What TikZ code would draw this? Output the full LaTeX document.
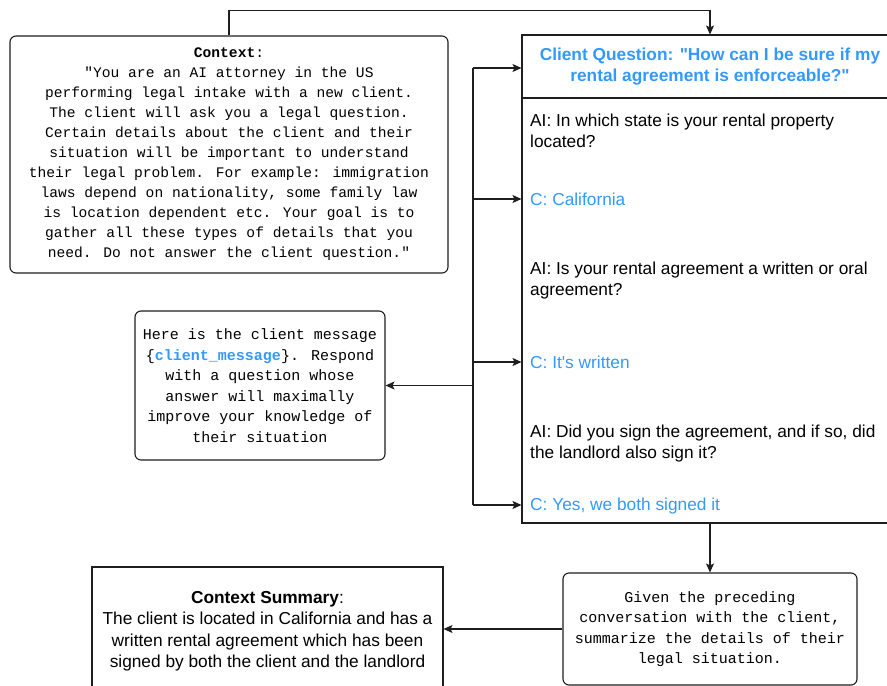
\documentclass[tikz,border=0pt]{standalone}
\usepackage{fontspec}
\setmainfont{Liberation Sans}[Ligatures=TeXOff]
\newfontfamily\monof{Liberation Mono}
\usetikzlibrary{arrows.meta}
\newcommand{\dq}{\char"22\relax}
\definecolor{qblue}{RGB}{51,153,255}
\definecolor{lineg}{RGB}{30,30,30}
\tikzset{
  box/.style={draw=lineg, line width=1.1pt, rounded corners=6pt, inner sep=0pt, align=center, fill=white},
  sqbox/.style={draw=lineg, line width=1.1pt, inner sep=0pt, align=center, fill=white},
  conn/.style={draw=lineg, line width=1.1pt, -{Stealth[length=9pt,width=8pt,inset=2pt]}},
  plain/.style={draw=lineg, line width=1.1pt},
  monotext/.style={font=\monof\fontsize{14.6}{20}\selectfont},
  monotextb/.style={font=\monof\fontsize{15}{20.5}\selectfont},
  sanstext/.style={font=\fontsize{17.3}{21}\selectfont, inner sep=0pt, align=left, anchor=west},
}
\begin{document}
\begin{tikzpicture}[x=1pt,y=-1pt]
\useasboundingbox (0,0) rectangle (887,686);
\clip (0,0) rectangle (887,686);
\fill[white] (0,0) rectangle (887,686);

% Context box
\node[box, monotext, minimum width=438pt, minimum height=237pt] (ctx) at (229,154.5)
{\textbf{Context}:\\
\dq You are an AI attorney in the US\\
performing legal intake with a new client.\\
The client will ask you a legal question.\\
Certain details about the client and their\\
situation will be important to understand\\
their legal problem. For example: immigration\\
laws depend on nationality, some family law\\
is location dependent etc. Your goal is to\\
gather all these types of details that you\\
need. Do not answer the client question.\dq};

% Client question box: header and body
\node[sqbox, minimum width=376pt, minimum height=63pt, text=qblue, font=\bfseries\fontsize{17.3}{21}\selectfont] (hdr) at (710,66.5)
{Client Question: \dq How can I be sure if my\\ rental agreement is enforceable?\dq};
\node[sqbox, minimum width=376pt, minimum height=425pt] (body) at (710,310.5) {};

\node[sanstext] (ai1) at (530,130.5) {AI: In which state is your rental property\\ located?};
\node[sanstext, text=qblue] (c1) at (530,199) {C: California};
\node[sanstext] (ai2) at (530,280.5) {AI: Is your rental agreement a written or oral\\ agreement?};
\node[sanstext, text=qblue] (c2) at (530,362) {C: It's written};
\node[sanstext] (ai3) at (530,443.5) {AI: Did you sign the agreement, and if so, did\\ the landlord also sign it?};
\node[sanstext, text=qblue] (c3) at (530,506) {C: Yes, we both signed it};

% Prompt box
\node[box, monotextb, minimum width=250pt, minimum height=149pt] (prompt) at (260,385.5)
{Here is the client message\\
\{\textcolor{qblue}{\textbf{client\_message}}\}. Respond\\
with a question whose\\
answer will maximally\\
improve your knowledge of\\
their situation};

% Summary prompt box
\node[box, monotextb, minimum width=294pt, minimum height=112pt] (sumq) at (710,629)
{Given the preceding\\
conversation with the client,\\
summarize the details of their\\
legal situation.};

% Context summary box
\node[sqbox, minimum width=351pt, minimum height=128pt, font=\fontsize{17.3}{21.5}\selectfont] (cs) at (267.5,631)
{\textbf{Context Summary}:\\
The client is located in California and has a\\
written rental agreement which has been\\
signed by both the client and the landlord};

% Connectors
\draw[conn] (ctx.north) -- ++(0,-25) -| (hdr.north);

\coordinate (ttop) at (473,68);
\coordinate (tbot) at (473,505);
\coordinate (tmid) at (473,385.5);
\draw[plain] (ttop) -- (tbot);
\draw[conn] (ttop) -- (ttop -| hdr.west);
\draw[conn] (c1.west -| tmid) -- (c1.west -| body.west);
\draw[conn] (c2.west -| tmid) -- (c2.west -| body.west);
\draw[conn] (tbot) -- (tbot -| body.west);
\draw[conn] (tmid) -- (prompt.east);

\draw[conn] (body.south) -- (sumq.north);
\draw[conn] (sumq.west) -- (sumq.west -| cs.east);
\end{tikzpicture}
\end{document}
